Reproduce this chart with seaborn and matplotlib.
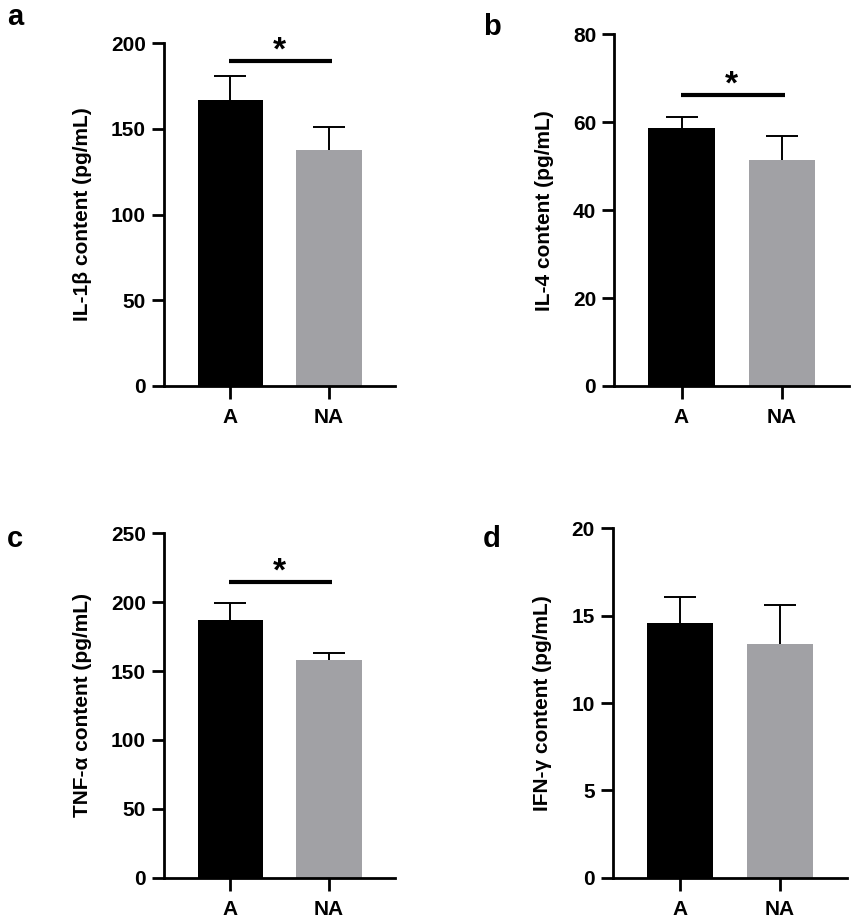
import pandas as pd
import seaborn as sns
import matplotlib.pyplot as plt

# Data (mean and upper SD per group)
groups = ['A', 'NA']
il1b_mean = [167.0, 137.6]
il1b_sd = [13.7, 13.4]
il4_mean = [58.8, 51.3]
il4_sd = [2.3, 5.6]
tnfa_mean = [187.0, 158.0]
tnfa_sd = [12.5, 5.4]
ifng_mean = [14.6, 13.4]
ifng_sd = [1.45, 2.2]

ylabels = ['IL-1β content (pg/mL)', 'IL-4 content (pg/mL)',
           'TNF-α content (pg/mL)', 'IFN-γ content (pg/mL)']
panel_letters = ['a', 'b', 'c', 'd']
ymax = [200, 80, 250, 20]
ystep = [50, 20, 50, 5]
sig_line = [189.5, 66.3, 214.9, None]  # height of the significance bar

sns.set_style('ticks')
plt.rcParams['font.family'] = ['Liberation Sans', 'DejaVu Sans']
plt.rcParams['font.weight'] = 'bold'
for key in ['text.color', 'axes.labelcolor', 'xtick.color', 'ytick.color', 'axes.edgecolor']:
    plt.rcParams[key] = 'black'

colors = ['#000000', '#a1a1a5']

fig = plt.figure(figsize=(8.57, 9.23), dpi=100)

rects = [[0.1914, 0.5818, 0.2696, 0.3716],
         [0.7168, 0.5818, 0.2739, 0.3810],
         [0.1914, 0.0491, 0.2696, 0.3731],
         [0.7150, 0.0491, 0.2733, 0.3785]]
letter_pos = [(0.008, 0.973), (0.5636, 0.962), (0.008, 0.4074), (0.5636, 0.4074)]

means = [il1b_mean, il4_mean, tnfa_mean, ifng_mean]
sds = [il1b_sd, il4_sd, tnfa_sd, ifng_sd]

for i in range(4):
    ax = fig.add_axes(rects[i])
    df = pd.DataFrame({'group': groups, 'value': means[i]})
    sns.barplot(data=df, x='group', y='value', hue='group', palette=colors,
                saturation=1, width=0.66, legend=False, ax=ax, linewidth=0)
    eb = ax.errorbar(x=[0, 1], y=means[i], yerr=[[0, 0], sds[i]], fmt='none',
                     ecolor='black', elinewidth=1.4, capsize=11.5, capthick=1.4)
    # only the upper cap is shown
    eb[1][0].set_visible(False)

    ax.set_xlim(-0.67, 1.67)
    ax.set_ylim(0, ymax[i])
    ax.set_yticks(range(0, ymax[i] + 1, ystep[i]))
    ax.set_xlabel('')
    ax.set_ylabel(ylabels[i], fontsize=15, fontweight='bold', labelpad=14)
    sns.despine(ax=ax)
    ax.spines['left'].set_bounds(0, ymax[i])
    for s in ['left', 'bottom']:
        ax.spines[s].set_linewidth(2.0)
    ax.tick_params(axis='both', width=2.0, length=9, labelsize=15, pad=4)
    ax.tick_params(axis='x', pad=7)
    for lab in ax.get_xticklabels() + ax.get_yticklabels():
        lab.set_fontweight('bold')

    if sig_line[i] is not None:
        ax.plot([-0.01, 1.03], [sig_line[i], sig_line[i]], color='black',
                lw=3.0, solid_capstyle='butt', clip_on=False)
        ax.annotate('*', xy=(0.5, sig_line[i]), xytext=(0, 1),
                    textcoords='offset points', ha='center', va='baseline',
                    fontsize=24, fontweight='bold')

    fig.text(letter_pos[i][0], letter_pos[i][1], panel_letters[i],
             fontsize=21, fontweight='bold', va='baseline')

fig.savefig('out.png', dpi=100)
